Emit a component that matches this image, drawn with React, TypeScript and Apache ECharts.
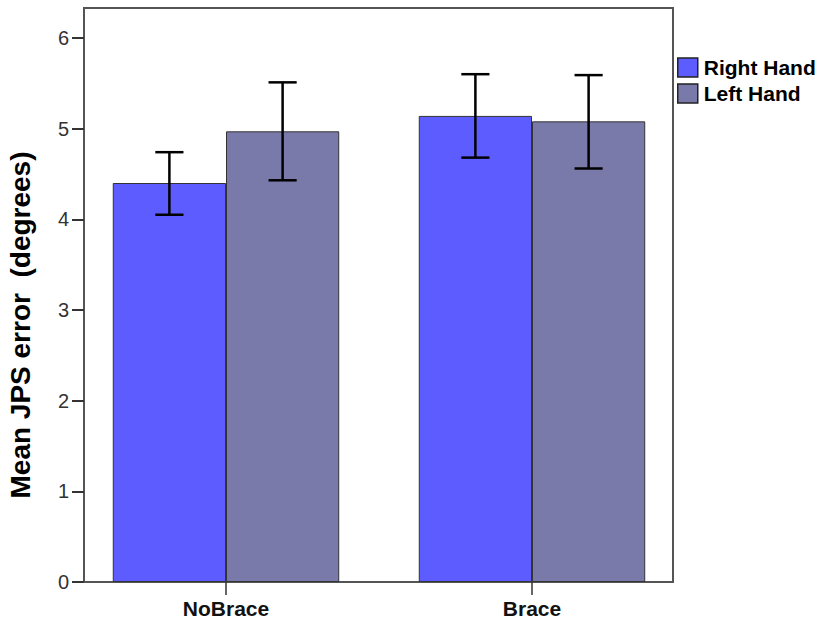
import React, { useEffect, useRef } from "react";
import * as echarts from "echarts";

const categories = ["NoBrace", "Brace"];
const seriesNames = ["Right Hand", "Left Hand"];
const rightMeans = [4.4, 5.14];
const leftMeans = [4.97, 5.08];
const rightHigh = [4.74, 5.6];
const rightLow = [4.05, 4.68];
const leftHigh = [5.51, 5.59];
const leftLow = [4.43, 4.56];
const yTicks = [0, 1, 2, 3, 4, 5, 6];
const yMax = 6.33;

const BAR_FRAC = 0.37;
const CAP_FRAC = 0.092;

function errorSeries(name: string, highs: number[], lows: number[], side: number) {
  return {
    type: "custom",
    name: name + " error",
    xAxisIndex: 1,
    yAxisIndex: 1,
    z: 10,
    silent: true,
    data: categories.map((_, i) => [i, highs[i], lows[i]]),
    renderItem: (params: any, api: any) => {
      const xi = api.value(0);
      const hi = api.coord([xi, api.value(1)]);
      const lo = api.coord([xi, api.value(2)]);
      const band = api.size([1, 0])[0];
      const cx = hi[0] + (side * band * BAR_FRAC) / 2;
      const half = (band * CAP_FRAC) / 2;
      const st = { stroke: "#000", lineWidth: 2.5 };
      return {
        type: "group",
        children: [
          { type: "line", shape: { x1: cx, y1: hi[1], x2: cx, y2: lo[1] }, style: st },
          { type: "line", shape: { x1: cx - half, y1: hi[1], x2: cx + half, y2: hi[1] }, style: st },
          { type: "line", shape: { x1: cx - half, y1: lo[1], x2: cx + half, y2: lo[1] }, style: st },
        ],
      };
    },
  };
}

export default function App() {
  const ref = useRef<HTMLDivElement>(null);
  useEffect(() => {
    if (!ref.current) return;
    const chart = echarts.init(ref.current, undefined, { renderer: "svg" });
    chart.setOption({
      animation: false,
      backgroundColor: "#fff",
      grid: [
        {
          left: 84,
          top: 8,
          width: 589,
          height: 574,
          show: true,
          borderColor: "#555",
          borderWidth: 2,
          backgroundColor: "transparent",
        },
        { left: 73, top: 8, width: 612, height: 574 },
      ],
      xAxis: [
        { type: "category", gridIndex: 0, data: categories, show: false },
        {
          type: "category",
          gridIndex: 1,
          data: categories,
          boundaryGap: true,
          axisLine: { show: false },
          axisTick: {
            show: true,
            alignWithLabel: true,
            length: 13,
            lineStyle: { color: "#333", width: 1.5 },
          },
          axisLabel: {
            color: "#111",
            fontFamily: "Liberation Sans, Arial, sans-serif",
            fontWeight: "bold",
            fontSize: 21,
            margin: 16,
          },
        },
      ],
      yAxis: [
        {
          type: "value",
          gridIndex: 0,
          min: 0,
          max: yMax,
          splitLine: { show: false },
          axisLine: { show: false },
          axisTick: {
            show: true,
            inside: false,
            length: 12,
            customValues: yTicks,
            lineStyle: { color: "#333", width: 2 },
          },
          axisLabel: {
            customValues: yTicks,
            color: "#333",
            fontFamily: "Liberation Sans, Arial, sans-serif",
            fontSize: 20,
            margin: 15,
          },
        },
        { type: "value", gridIndex: 1, min: 0, max: yMax, show: false },
      ],
      legend: {
        orient: "vertical",
        left: 677,
        top: 57,
        padding: 0,
        itemWidth: 20,
        itemHeight: 19,
        itemGap: 5,
        icon: "rect",
        data: seriesNames,
        itemStyle: { borderColor: "#222", borderWidth: 1.5 },
        textStyle: {
          color: "#000",
          fontFamily: "Liberation Sans, Arial, sans-serif",
          fontWeight: "bold",
          fontSize: 21,
          padding: [0, 0, 0, 1],
        },
      },
      graphic: [
        {
          type: "text",
          x: 20,
          y: 325,
          rotation: Math.PI / 2,
          style: {
            text: "Mean JPS error  (degrees)",
            fill: "#000",
            font: "bold 28px 'Liberation Sans', Arial, sans-serif",
            align: "center",
            verticalAlign: "middle",
          },
        },
      ],
      series: [
        {
          type: "bar",
          name: seriesNames[0],
          xAxisIndex: 1,
          yAxisIndex: 1,
          data: rightMeans,
          barWidth: BAR_FRAC * 100 + "%",
          barGap: "0%",
          itemStyle: { color: "#5c5cff", borderColor: "#333", borderWidth: 1 },
        },
        {
          type: "bar",
          name: seriesNames[1],
          xAxisIndex: 1,
          yAxisIndex: 1,
          data: leftMeans,
          barWidth: BAR_FRAC * 100 + "%",
          barGap: "0%",
          itemStyle: { color: "#7a7aaa", borderColor: "#333", borderWidth: 1 },
        },
        errorSeries(seriesNames[0], rightHigh, rightLow, -1),
        errorSeries(seriesNames[1], leftHigh, leftLow, 1),
      ],
    });
    return () => chart.dispose();
  }, []);
  return (
    <div
      ref={ref}
      style={{ position: "fixed", left: 0, top: 0, width: 824, height: 627 }}
    />
  );
}
